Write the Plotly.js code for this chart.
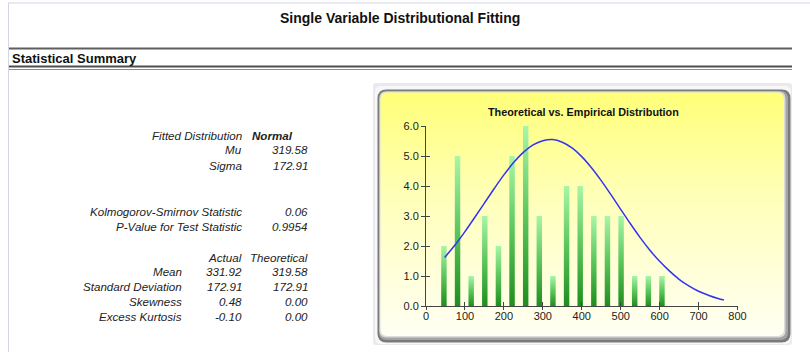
<!DOCTYPE html>
<html>
<head>
<meta charset="utf-8">
<script src="https://cdn.plot.ly/plotly-3.0.1.min.js"></script>
<style>
html,body{margin:0;padding:0;background:#fff;}
#chart{width:810px;height:363px;}
</style>
</head>
<body>
<div id="chart"></div>
<script>
// ---------- data ----------
var binCenters = [46, 81, 116, 151, 186, 221, 256, 291, 326, 361, 396, 431, 466, 501, 536, 571, 606];
var binCounts  = [2, 5, 1, 3, 2, 5, 6, 3, 1, 4, 4, 3, 3, 3, 1, 1, 1];
var curveX = [48, 75, 100, 125, 150, 175, 200, 225, 250, 275, 300, 325, 350, 375, 400, 425, 450, 475, 500, 525, 550, 575, 600, 625, 650, 675, 700, 725, 750, 765];
var curveY = [1.62, 2.04, 2.48, 2.95, 3.43, 3.91, 4.37, 4.78, 5.12, 5.37, 5.51, 5.55, 5.46, 5.27, 4.98, 4.61, 4.18, 3.71, 3.22, 2.74, 2.28, 1.86, 1.49, 1.17, 0.89, 0.67, 0.49, 0.36, 0.25, 0.20];
var xTicks = [0, 100, 200, 300, 400, 500, 600, 700, 800];
var yTicks = [0, 1, 2, 3, 4, 5, 6];
var yTickLabels = ["0.0", "1.0", "2.0", "3.0", "4.0", "5.0", "6.0"];

var summaryLabels = ["Fitted Distribution", "Mu", "Sigma", "Kolmogorov-Smirnov Statistic", "P-Value for Test Statistic"];
var summaryValues = ["Normal", "319.58", "172.91", "0.06", "0.9954"];
var momentLabels = ["Mean", "Standard Deviation", "Skewness", "Excess Kurtosis"];
var actualValues = ["331.92", "172.91", "0.48", "-0.10"];
var theoreticalValues = ["319.58", "172.91", "0.00", "0.00"];

var binWidth = 14;

// ---------- helpers ----------
var W = 810, H = 363;
function px(x){ return x / W; }
function py(y){ return 1 - y / H; }

// ---------- panel background (canvas image) ----------
function rr(ctx, x, y, w, h, r){
  ctx.beginPath();
  ctx.moveTo(x + r, y);
  ctx.lineTo(x + w - r, y);
  ctx.quadraticCurveTo(x + w, y, x + w, y + r);
  ctx.lineTo(x + w, y + h - r);
  ctx.quadraticCurveTo(x + w, y + h, x + w - r, y + h);
  ctx.lineTo(x + r, y + h);
  ctx.quadraticCurveTo(x, y + h, x, y + h - r);
  ctx.lineTo(x, y + r);
  ctx.quadraticCurveTo(x, y, x + r, y);
  ctx.closePath();
}
var cv = document.createElement('canvas');
cv.width = W; cv.height = H;
var ctx = cv.getContext('2d');
ctx.fillStyle = '#e9e9ee';
rr(ctx, 373, 83, 419, 262, 3); ctx.fill();
ctx.fillStyle = '#f7f7f9';
rr(ctx, 375, 86, 416, 258, 6); ctx.fill();
ctx.fillStyle = '#7a7a7a';
rr(ctx, 377.5, 89.5, 413, 253, 9); ctx.fill();
ctx.fillStyle = '#a4a4a4';
rr(ctx, 379, 91, 409, 249, 8); ctx.fill();
ctx.fillStyle = '#dcdcdc';
rr(ctx, 379.5, 91.5, 406, 246, 7); ctx.fill();
var g = ctx.createLinearGradient(0, 92, 0, 336);
g.addColorStop(0, '#ffff78');
g.addColorStop(0.45, '#ffffbc');
g.addColorStop(1, '#fffff4');
ctx.fillStyle = g;
rr(ctx, 380.5, 92.5, 403.5, 243.5, 7); ctx.fill();
var panelURL = cv.toDataURL('image/png');

// ---------- traces ----------
var traces = [];
for (var i = 0; i < binCenters.length; i++) {
  var c = binCenters[i], h = binCounts[i], hw = binWidth / 2;
  traces.push({
    type: 'scatter', mode: 'lines',
    x: [c - hw, c + hw, c + hw, c - hw, c - hw],
    y: [0, 0, h, h, 0],
    fill: 'toself',
    fillcolor: '#55c055',
    fillgradient: {type: 'vertical', colorscale: [[0, '#1e8e1e'], [0.5, '#5cc65c'], [1, '#a8f6a8']]},
    line: {width: 0, color: 'rgba(0,0,0,0)'},
    hoverinfo: 'skip', showlegend: false
  });
}
traces.push({
  type: 'scatter', mode: 'lines',
  x: curveX, y: curveY,
  line: {color: '#3434f0', width: 1.5, shape: 'spline'},
  hoverinfo: 'skip', showlegend: false
});
traces.push({type: 'scatter', mode: 'lines', x: [0], y: [0], xaxis: 'x2', yaxis: 'y2',
  line: {width: 0}, hoverinfo: 'skip', showlegend: false, opacity: 0});

// ---------- annotations ----------
var sans = 'Liberation Sans, Arial, sans-serif';
var statFont = {family: sans, size: 11.6, color: '#222'};
var ann = [];
function txt(text, x, y, anchor, font){
  ann.push({text: text, x: px(x), y: py(y), xref: 'paper', yref: 'paper',
    xanchor: anchor, yanchor: 'middle', showarrow: false, font: font});
}
txt('<b>Single Variable Distributional Fitting</b>', 400, 18, 'center', {family: sans, size: 14, color: '#111'});
txt('<b>Statistical Summary</b>', 10, 58, 'left', {family: sans, size: 13, color: '#111'});
txt('<b>Theoretical vs. Empirical Distribution</b>', 583, 112, 'center', {family: sans, size: 10.8, color: '#111'});

var topRows = [135, 150, 165, 211, 226];
for (var k = 0; k < summaryLabels.length; k++) {
  txt('<i>' + summaryLabels[k] + '</i>', 244, topRows[k], 'right', statFont);
  if (k === 0) txt('<b><i>' + summaryValues[k] + '</i></b>', 250, topRows[k], 'left', statFont);
  else txt('<i>' + summaryValues[k] + '</i>', 310, topRows[k], 'right', statFont);
}
txt('<i>Actual</i>', 244, 257, 'right', statFont);
txt('<i>Theoretical</i>', 310, 257, 'right', statFont);
var momRows = [271, 286, 301, 316];
for (var m = 0; m < momentLabels.length; m++) {
  txt('<i>' + momentLabels[m] + '</i>', 184, momRows[m], 'right', statFont);
  txt('<i>' + actualValues[m] + '</i>', 244, momRows[m], 'right', statFont);
  txt('<i>' + theoreticalValues[m] + '</i>', 310, momRows[m], 'right', statFont);
}

// ---------- shapes ----------
function line(x0, y0, x1, y1, color, width){
  return {type: 'line', xref: 'paper', yref: 'paper', x0: px(x0), y0: py(y0), x1: px(x1), y1: py(y1),
    line: {color: color, width: width}, layer: 'above'};
}
var shapes = [
  line(8, 3, 810, 3, '#d2d6e6', 1),
  line(8.5, 3, 8.5, 352, '#d2d6e6', 1),
  line(9, 48.5, 792, 48.5, '#5e5e5e', 2),
  line(9, 66.5, 792, 66.5, '#4e4e4e', 2),
  line(9, 69.5, 792, 69.5, '#8a8a8a', 1)
];

var xDom = [px(426), px(737.5)];
var yDom = [py(306), py(126)];
var tickFont = {family: sans, size: 11, color: '#222'};

var layout = {
  width: W, height: H,
  margin: {l: 0, r: 0, t: 0, b: 0, pad: 0},
  paper_bgcolor: '#ffffff',
  plot_bgcolor: 'rgba(0,0,0,0)',
  showlegend: false,
  xaxis: {domain: xDom, range: [0, 800], tickvals: xTicks, ticktext: xTicks.map(String),
    showgrid: false, zeroline: false, showline: true, linecolor: '#444', linewidth: 1,
    ticks: 'outside', ticklen: 3, tickcolor: '#444', tickfont: tickFont, ticklabelstandoff: -3, fixedrange: true},
  yaxis: {domain: yDom, range: [0, 6], tickvals: yTicks, ticktext: yTickLabels,
    showgrid: false, zeroline: false, showline: true, linecolor: '#444', linewidth: 1,
    ticks: 'outside', ticklen: 4, tickcolor: '#444', tickfont: tickFont, fixedrange: true},
  xaxis2: {overlaying: 'x', anchor: 'y2', range: [0, 800], tickvals: xTicks, showticklabels: false,
    showgrid: false, zeroline: false, showline: false, ticks: 'inside', ticklen: 4, tickcolor: '#444', fixedrange: true},
  yaxis2: {overlaying: 'y', anchor: 'x2', side: 'left', range: [0, 6], tickvals: yTicks, showticklabels: false,
    showgrid: false, zeroline: false, showline: false, ticks: 'inside', ticklen: 4, tickcolor: '#444', fixedrange: true},
  images: [{source: panelURL, xref: 'paper', yref: 'paper', x: 0, y: 1, sizex: 1, sizey: 1,
    xanchor: 'left', yanchor: 'top', sizing: 'stretch', layer: 'below'}],
  annotations: ann,
  shapes: shapes
};

Plotly.newPlot('chart', traces, layout, {displayModeBar: false, staticPlot: true});
</script>
</body>
</html>
